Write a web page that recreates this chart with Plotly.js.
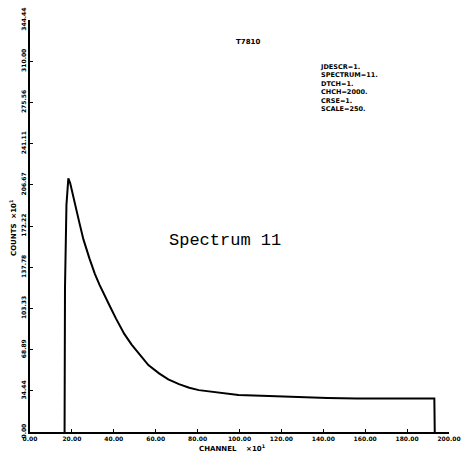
<!DOCTYPE html>
<html>
<head>
<meta charset="utf-8">
<script src="https://cdn.plot.ly/plotly-3.0.1.min.js"></script>
<style>html,body{margin:0;padding:0;background:#fff;}#chart{width:462px;height:459px;}</style>
</head>
<body>
<div id="chart"></div>
<script>
// Spectrum 11 data (channel ×10¹, counts ×10¹)
const channels = [16.5, 16.7, 17.4, 18.3, 19.2, 20.2, 21.3, 22.5, 23.7, 25.5, 28.4, 31.0, 33.2, 35.5, 37.9, 41.0, 45.0, 48.5, 52.1, 56.5, 61.6, 66.0, 71.1, 76.0, 80.6, 90.0, 99.5, 114.0, 128.0, 142.0, 156.0, 175.0, 193.0, 193.2];
const counts   = [0,    120,  190,  212,  208,  201,  193,  183,  174,  161,  145,  132,  123,  114,  106,  95,   82,   73,   65,   56,   49,   44,   40,   37,   35,   33,   31,   30,   29,   28.5, 28,   28,   28,   0];
const xTickVals = [0, 20, 40, 60, 80, 100, 120, 140, 160, 180, 200];
const xTickText = ['0.00','20.00','40.00','60.00','80.00','100.00','120.00','140.00','160.00','180.00','200.00'];
const yTickVals = [0, 34.44, 68.89, 103.33, 137.78, 172.22, 206.67, 241.11, 275.56, 310.00, 344.44];
const yTickText = ['0.00','34.44','68.89','103.33','137.78','172.22','206.67','241.11','275.56','310.00','344.44'];
const paramLines = ['JDESCR=1.', 'SPECTRUM=11.', 'DTCH=1.', 'CHCH=2000.', 'CRSE=1.', 'SCALE=250.'];

const tickFont = {family: 'DejaVu Sans', size: 6, color: '#000', weight: 'bold'};
const lblFont = {family: 'DejaVu Sans', size: 7, color: '#000', weight: 'bold'};

const trace = {
  x: channels, y: counts, type: 'scatter', mode: 'lines',
  line: {color: '#000', width: 2, shape: 'linear'},
  hoverinfo: 'none'
};

const annotations = [
  {text: 'T7810', x: 248, y: 42, showarrow: false, font: lblFont},
  {text: paramLines.join('<br>'), x: 318, y: 61, xanchor: 'left', yanchor: 'top', align: 'left', showarrow: false, font: {family: 'DejaVu Sans', size: 6.5, color: '#000', weight: 'bold'}},
  {text: 'Spectrum 11', x: 225, y: 240, showarrow: false, font: {family: 'Liberation Mono', size: 17, color: '#000'}},
  {text: 'CHANNEL    \u00d710<sup>1</sup>', x: 232, y: 448, showarrow: false, font: lblFont},
  {text: 'COUNTS  \u00d710<sup>1</sup>', x: 13, y: 228, textangle: -90, showarrow: false, font: lblFont}
];
// convert pixel placement to paper coords
const W = 462, H = 459, ml = 30, mr = 13, mt = 20, mb = 27;
annotations.forEach(a => {
  a.xref = 'paper'; a.yref = 'paper';
  a.x = (a.x - ml) / (W - ml - mr);
  a.y = (H - mb - a.y) / (H - mt - mb);
  if (!a.xanchor) a.xanchor = 'center';
  if (!a.yanchor) a.yanchor = 'middle';
});

const layout = {
  width: W, height: H,
  margin: {l: ml, r: mr, t: mt, b: mb},
  paper_bgcolor: '#fff', plot_bgcolor: '#fff',
  showlegend: false,
  xaxis: {
    range: [0, 200], tickvals: xTickVals, ticktext: xTickText, tickfont: tickFont,
    showgrid: false, zeroline: false, showline: true, linecolor: '#000', linewidth: 2,
    ticks: 'inside', ticklen: 3, tickcolor: '#000', tickangle: 0, ticklabeloverflow: 'allow'
  },
  yaxis: {
    range: [0, 344.44], tickvals: yTickVals, ticktext: yTickText, tickfont: tickFont,
    showgrid: false, zeroline: false, showline: true, linecolor: '#000', linewidth: 2,
    ticks: 'inside', ticklen: 3, tickcolor: '#000', tickangle: -90, ticklabeloverflow: 'allow'
  },
  annotations: annotations
};

Plotly.newPlot('chart', [trace], layout, {displayModeBar: false, staticPlot: true});
</script>
</body>
</html>
